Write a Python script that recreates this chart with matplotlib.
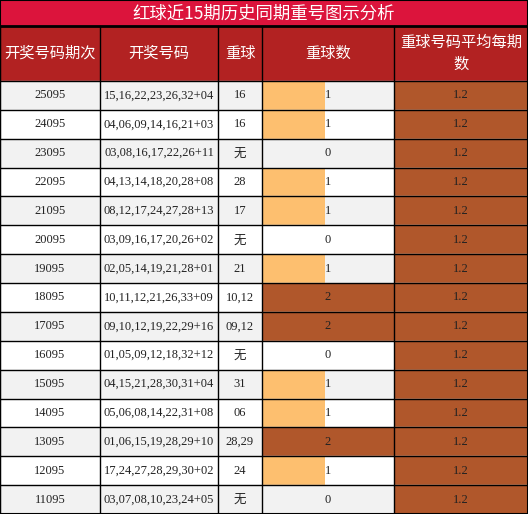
import matplotlib
matplotlib.use("Agg")
from matplotlib import pyplot as plt
from matplotlib.patches import Rectangle

## Data
title = "红球近15期历史同期重号图示分析"
headers = ["开奖号码期次", "开奖号码", "重球", "重球数", "重球号码平均每期\n数"]
periods = ["25095", "24095", "23095", "22095", "21095", "20095", "19095", "18095",
           "17095", "16095", "15095", "14095", "13095", "12095", "11095"]
draws = ["15,16,22,23,26,32+04", "04,06,09,14,16,21+03", "03,08,16,17,22,26+11",
         "04,13,14,18,20,28+08", "08,12,17,24,27,28+13", "03,09,16,17,20,26+02",
         "02,05,14,19,21,28+01", "10,11,12,21,26,33+09", "09,10,12,19,22,29+16",
         "01,05,09,12,18,32+12", "04,15,21,28,30,31+04", "05,06,08,14,22,31+08",
         "01,06,15,19,28,29+10", "17,24,27,28,29,30+02", "03,07,08,10,23,24+05"]
repeats = ["16", "16", "无", "28", "17", "无", "21", "10,12", "09,12", "无",
           "31", "06", "28,29", "24", "无"]
counts = [1, 1, 0, 1, 1, 0, 1, 2, 2, 0, 1, 1, 2, 1, 0]
avg = [1.2] * 15

## Layout (pixels)
col_x = [0, 100, 218, 262, 394, 528]
title_h = 26
head_bot = 81
row_h = (514 - head_bot) / len(periods)

plt.rcParams["font.family"] = ["Liberation Serif", "Noto Sans CJK SC"]
cjk = ["Noto Sans CJK SC", "DejaVu Sans"]

fig = plt.figure(figsize=(5.28, 5.14), dpi=100)
ax = fig.add_axes([0, 0, 1, 1])
ax.set_xlim(0, 528)
ax.set_ylim(514, 0)
ax.axis("off")

orange = "#fdbf6f"
brown = "#b0572b"

# title and header
ax.add_patch(Rectangle((0, 0), 528, title_h, color="#dc143c"))
ax.text(264, title_h / 2 + 1, title, color="white", ha="center", va="center",
        fontsize=12.5, family=cjk)
ax.add_patch(Rectangle((0, title_h), 528, head_bot - title_h, color="#b22222"))
for j, h in enumerate(headers):
    cx = (col_x[j] + col_x[j + 1]) / 2
    ax.text(cx, (title_h + head_bot) / 2, h, color="white", ha="center",
            va="center", fontsize=11, family=cjk, linespacing=1.4)

# body
cmax = 2.1
for i in range(len(periods)):
    y0 = head_bot + i * row_h
    cy = y0 + row_h / 2
    ax.add_patch(Rectangle((0, y0), 528, row_h,
                           color="#f2f2f2" if i % 2 == 0 else "white"))
    w = col_x[4] - col_x[3]
    if counts[i] > 0:
        frac = min(counts[i] / cmax, 1) if counts[i] < 2 else 1
        ax.barh(cy, w * frac, height=row_h, left=col_x[3],
                color=orange if counts[i] == 1 else brown)
    ax.barh(cy, col_x[5] - col_x[4], height=row_h, left=col_x[4], color=brown)
    vals = [periods[i], draws[i], repeats[i], str(counts[i]), str(avg[i])]
    for j, v in enumerate(vals):
        cx = (col_x[j] + col_x[j + 1]) / 2
        ax.text(cx, cy, v, ha="center", va="center", fontsize=9,
                color="#222222", family=cjk if v == "无" else None)

# grid lines
for x in col_x:
    ax.plot([x, x], [title_h, 514], color="black", lw=1)
ax.plot([0, 528], [title_h, title_h], color="black", lw=2)
for i in range(len(periods) + 1):
    y = head_bot + i * row_h
    ax.plot([0, 528], [y, y], color="black", lw=1)
ax.plot([0, 0, 528, 528, 0], [0, 514, 514, 0, 0], color="black", lw=1.5)

fig.savefig("out.png", dpi=100)
